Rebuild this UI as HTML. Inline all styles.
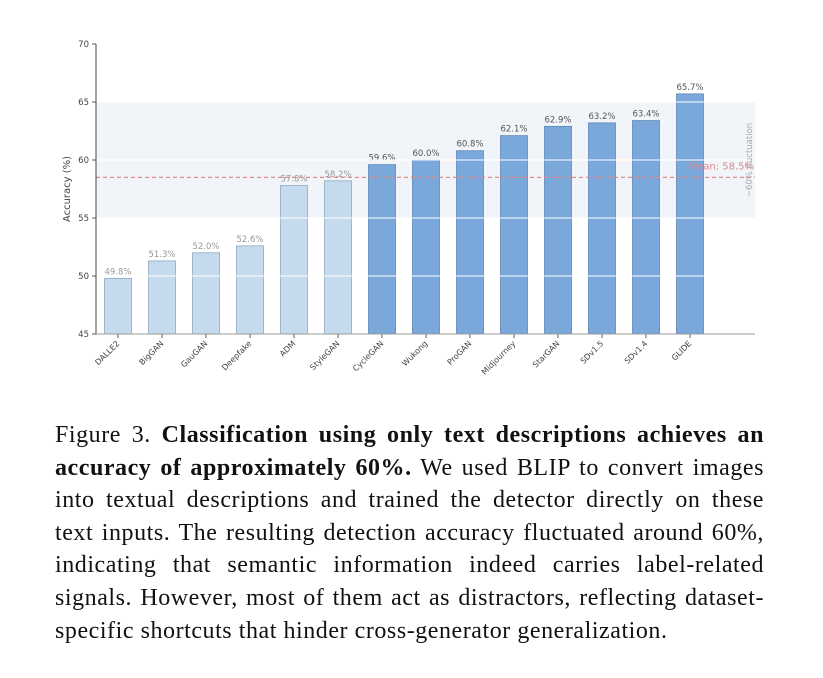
<!DOCTYPE html>
<html><head><meta charset="utf-8"><style>
body{margin:0;width:823px;height:678px;background:#fff;overflow:hidden;position:relative}
#cap{position:absolute;left:55px;top:419px;width:709px;font-family:"Liberation Serif",serif;font-size:24px;letter-spacing:0.55px;line-height:32.6px;color:#111}
#cap div{text-align:justify;text-align-last:justify;white-space:nowrap}
#cap div.last{text-align-last:left}
</style></head><body>
<svg width="823" height="400" style="position:absolute;left:0;top:0" font-family="DejaVu Sans, Liberation Sans, sans-serif" id="chart"></svg>
<div id="cap">
<div>Figure 3. <b>Classification using only text descriptions achieves an</b></div>
<div><b>accuracy of approximately 60%.</b> We used BLIP to convert images</div>
<div>into textual descriptions and trained the detector directly on these</div>
<div>text inputs. The resulting detection accuracy fluctuated around 60%,</div>
<div>indicating that semantic information indeed carries label-related</div>
<div>signals. However, most of them act as distractors, reflecting dataset-</div>
<div class="last">specific shortcuts that hinder cross-generator generalization.</div>
</div>
<script>
const categories=["DALLE2","BigGAN","GauGAN","Deepfake","ADM","StyleGAN","CycleGAN","Wukong","ProGAN","Midjourney","StarGAN","SDv1.5","SDv1.4","GLIDE"];
const values=[49.8,51.3,52.0,52.6,57.8,58.2,59.6,60.0,60.8,62.1,62.9,63.2,63.4,65.7];
const yTicks=[45,50,55,60,65,70];
const meanValue=58.5;
const bandRange=[55,65];
const svg=document.getElementById('chart');const NS='http://www.w3.org/2000/svg';
function mk(t,a,p){const e=document.createElementNS(NS,t);for(const k in a)e.setAttribute(k,a[k]);(p||svg).appendChild(e);return e;}
const x0=96,x1=755,yTop=44,yBot=334,yMin=45,yMax=70;
const y=v=>yBot-(v-yMin)/(yMax-yMin)*(yBot-yTop);
const xc=i=>118+i*44;
let b=mk('rect',{x:x0,y:y(bandRange[1]),width:x1-x0,height:y(bandRange[0])-y(bandRange[1]),fill:'#f1f5fa'});

values.forEach((v,i)=>{
 const light=v<59;
 const r=mk('rect',{x:xc(i)-13.5,y:y(v),width:27,height:yBot-y(v),fill:light?'#c5dbed':'#7ba8db',stroke:light?'#8fa9bf':'#5d87b5','stroke-width':0.8});
 
 const t=mk('text',{x:xc(i),y:y(v)-4,'text-anchor':'middle','font-size':8.5,fill:light?'#999':'#555'});t.textContent=v.toFixed(1)+'%';
 
 mk('line',{x1:xc(i),x2:xc(i),y1:yBot,y2:yBot+4,stroke:'#333','stroke-width':0.8});
 const l=mk('text',{x:xc(i)+2,y:yBot+10,'text-anchor':'end','font-size':8,fill:'#444',transform:`rotate(-45 ${xc(i)+2} ${yBot+10})`});l.textContent=categories[i];
 
});
yTicks.forEach(v=>{
 if(v>yMin&&v<yMax){const g=mk('line',{x1:x0,x2:x1,y1:y(v),y2:y(v),stroke:'#fff','stroke-width':1.2,opacity:0.8});}
 mk('line',{x1:x0-4,x2:x0,y1:y(v),y2:y(v),stroke:'#333','stroke-width':0.8});
 const t=mk('text',{x:x0-7,y:y(v)+3,'text-anchor':'end','font-size':8.5,fill:'#444'});t.textContent=v;
 
});
let m=mk('line',{x1:x0,x2:x1,y1:y(meanValue),y2:y(meanValue),stroke:'#e08a8a','stroke-width':1.2,'stroke-dasharray':'4,3'});

let mt=mk('text',{x:754,y:y(meanValue)-8,'text-anchor':'end','font-size':10,fill:'#d98b8b'});mt.textContent='Mean: '+meanValue.toFixed(1)+'%';

let ft=mk('text',{x:752,y:y(60),'text-anchor':'middle','font-size':8.5,fill:'#aaa',transform:`rotate(-90 752 ${y(60)})`});ft.textContent='~60% fluctuation';

mk('line',{x1:x0,x2:x0,y1:yTop,y2:yBot,stroke:'#333','stroke-width':0.9});
mk('line',{x1:x0,x2:x1,y1:yBot,y2:yBot,stroke:'#999','stroke-width':0.9});
let yt=mk('text',{x:70,y:189,'text-anchor':'middle','font-size':10,fill:'#444',transform:'rotate(-90 70 189)'});yt.textContent='Accuracy (%)';

</script>
</body></html>
